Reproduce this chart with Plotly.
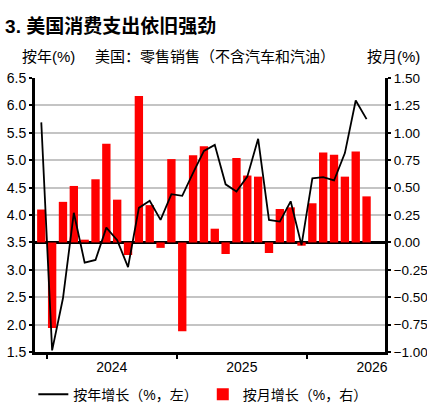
import plotly.graph_objects as go
import pandas as pd

# ---- data ----
months = [d.strftime("%Y-%m") for d in pd.date_range("2023-12-01", periods=31, freq="MS")]
yoy = [5.69, 1.53, 2.48, 4.04, 3.13, 3.18, 3.77, 3.54, 3.05, 4.13, 4.26, 3.91,
       4.38, 4.35, 4.77, 5.17, 5.28, 4.56, 4.43, 4.70, 5.39, 3.91, 3.88, 4.25,
       3.45, 4.67, 4.69, 4.63, 5.13, 6.09, 5.75]
mom = [0.30, -0.78, 0.37, 0.515, 0.025, 0.576, 0.90, 0.39, -0.115, 1.335, 0.34, -0.05,
       0.76, -0.81, 0.795, 0.877, 0.125, -0.106, 0.77, 0.61, 0.60, -0.097, 0.305, 0.32,
       -0.03, 0.357, 0.82, 0.80, 0.60, 0.83, 0.42]
year_labels = ["2024", "2025", "2026"]

title_text = "3. 美国消费支出依旧强劲"
subtitle = "美国：零售销售（不含汽车和汽油）"
left_unit = "按年(%)"
right_unit = "按月(%)"
name_yoy = "按年增长（%，左）"
name_mom = "按月增长（%，右）"

FONT = "Liberation Sans, Arial, Noto Sans CJK SC, sans-serif"

idx = list(range(len(months)))
years = [m[:4] for m in months]
first_idx = {}
for i, y in enumerate(years):
    first_idx.setdefault(y, i)
boundaries = [first_idx[y] - 0.5 for y in year_labels]
label_pos = [first_idx[y] + 5.5 for y in year_labels]

fig = go.Figure()
fig.add_trace(go.Bar(x=idx, y=mom, name=name_mom, marker_color="#FF0000",
                     marker_line_width=0, yaxis="y"))
fig.add_trace(go.Scatter(x=idx, y=yoy, name=name_yoy, mode="lines",
                         line=dict(color="#000000", width=1.8), yaxis="y2"))

fig.update_layout(
    width=427, height=406,
    margin=dict(l=35, r=42, t=78, b=54, autoexpand=False),
    paper_bgcolor="white", plot_bgcolor="white",
    font=dict(family=FONT, size=14, color="#000000"),
    bargap=0.23,
    showlegend=True,
    legend=dict(orientation="h", xref="container", x=0.475, xanchor="center",
                yref="container", y=0.028, yanchor="middle",
                font=dict(size=14), itemwidth=30, traceorder="reversed",
                tracegroupgap=0, bgcolor="rgba(0,0,0,0)"),
    title=dict(text="<b>" + title_text + "</b>", x=0.012, xref="container", xanchor="left",
               y=0.936, yref="container", yanchor="middle",
               font=dict(size=19, family=FONT, color="#000000")),
    xaxis=dict(range=[-0.58, 31.7], tickmode="array", tickvals=label_pos,
               ticktext=year_labels, ticks="", showgrid=False, zeroline=False,
               showline=True, linecolor="#000000", linewidth=3, automargin=False,
               tickfont=dict(size=14),
               minor=dict(tickmode="array", tickvals=boundaries, ticks="outside",
                          ticklen=4, tickwidth=2, tickcolor="#000000", showgrid=False)),
    yaxis=dict(range=[-1.0, 1.5], dtick=0.25, tickformat=".2f", side="right",
               showgrid=True, gridcolor="#c4c4c4", gridwidth=2, automargin=False,
               zeroline=True, zerolinecolor="#000000", zerolinewidth=2.5,
               showline=True, linecolor="#000000", linewidth=3,
               ticks="outside", ticklen=3, tickwidth=2, tickcolor="#000000",
               tickfont=dict(size=13.5)),
    yaxis2=dict(range=[1.5, 6.5], dtick=0.5, tickformat=".1f", side="left",
                overlaying="y", showgrid=False, zeroline=False, automargin=False,
                showline=True, linecolor="#000000", linewidth=3,
                ticks="outside", ticklen=3, tickwidth=2, tickcolor="#000000",
                tickfont=dict(size=14)),
)

ann_y = 1.078
fig.add_annotation(text=left_unit, xref="paper", yref="paper", x=-0.043, y=ann_y,
                   xanchor="left", yanchor="middle", showarrow=False, font=dict(size=15))
fig.add_annotation(text=subtitle, xref="paper", yref="paper", x=0.166, y=ann_y,
                   xanchor="left", yanchor="middle", showarrow=False, font=dict(size=15))
fig.add_annotation(text=right_unit, xref="paper", yref="paper", x=0.943, y=ann_y,
                   xanchor="left", yanchor="middle", showarrow=False, font=dict(size=15))

fig.write_html("out.html", config={"displayModeBar": False},
               post_script="document.body.style.margin='0';document.body.style.overflow='hidden';")
